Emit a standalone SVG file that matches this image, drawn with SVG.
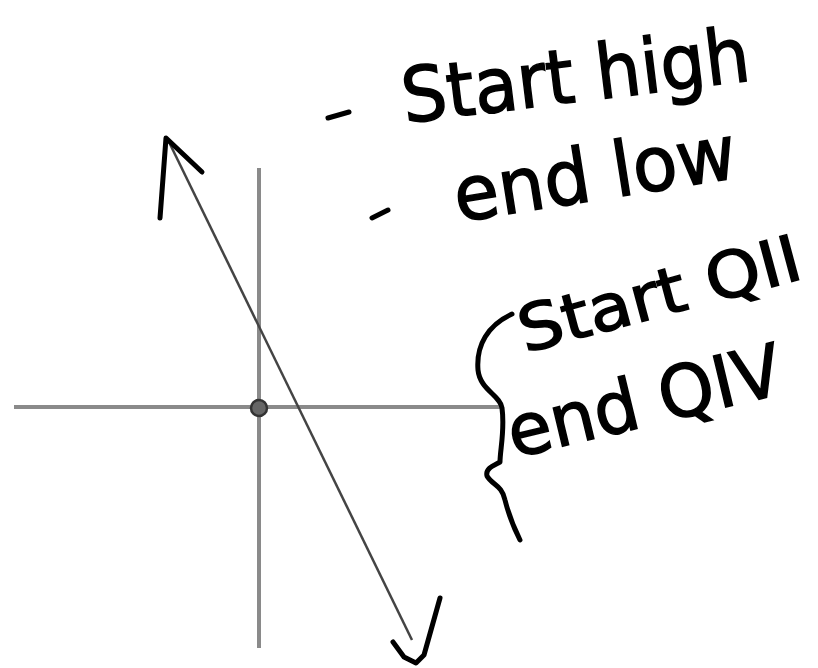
<svg xmlns="http://www.w3.org/2000/svg" width="818" height="668" viewBox="0 0 818 668">
<style>
.axis{stroke:#8a8a8a;stroke-width:4;fill:none}
.ink{stroke:#000;stroke-width:5;fill:none;stroke-linecap:round;stroke-linejoin:round}
.hand{font-family:"DejaVu Sans","Liberation Sans",sans-serif;fill:#000;stroke:#000;stroke-width:1.5}
</style>
<rect width="818" height="668" fill="#fff"/>
<g id="axes">
<line class="axis" x1="14" y1="407" x2="500" y2="407"/>
<line class="axis" x1="259" y1="168" x2="259" y2="648"/>
<circle cx="259" cy="408" r="8" fill="#666" stroke="#333" stroke-width="2.5"/>
</g>
<g id="connectors">
<line x1="168" y1="140" x2="412" y2="640" stroke="#444" stroke-width="2.5"/>
<path class="ink" d="M160 218 L166 138 L202 172"/>
<path class="ink" d="M393 642 L404 657 L416 663 L424 655 L440 598"/>
</g>
<g id="notes1">
<path class="ink" d="M328 118 L349 112"/>
<text class="hand" x="405" y="123" font-size="76" textLength="350" lengthAdjust="spacingAndGlyphs" transform="rotate(-7 405 123)">Start high</text>
<path class="ink" d="M372 218 L388 210"/>
<text class="hand" x="458" y="222" font-size="76" textLength="285" lengthAdjust="spacingAndGlyphs" transform="rotate(-9 458 222)">end low</text>
</g>
<g id="notes2">
<path class="ink" d="M512 314 C488 325 476 345 478 370 C480 390 500 395 502 408 C505 430 500 450 500 462 C495 465 485 468 487 476 C492 485 502 485 505 500 C510 520 515 530 520 540"/>
<text class="hand" x="525" y="353" font-size="64" textLength="290" lengthAdjust="spacingAndGlyphs" transform="rotate(-15 525 353)">Start QII</text>
<text class="hand" x="514" y="458" font-size="72" textLength="280" lengthAdjust="spacingAndGlyphs" transform="rotate(-13.5 514 458)">end QIV</text>
</g>
</svg>
